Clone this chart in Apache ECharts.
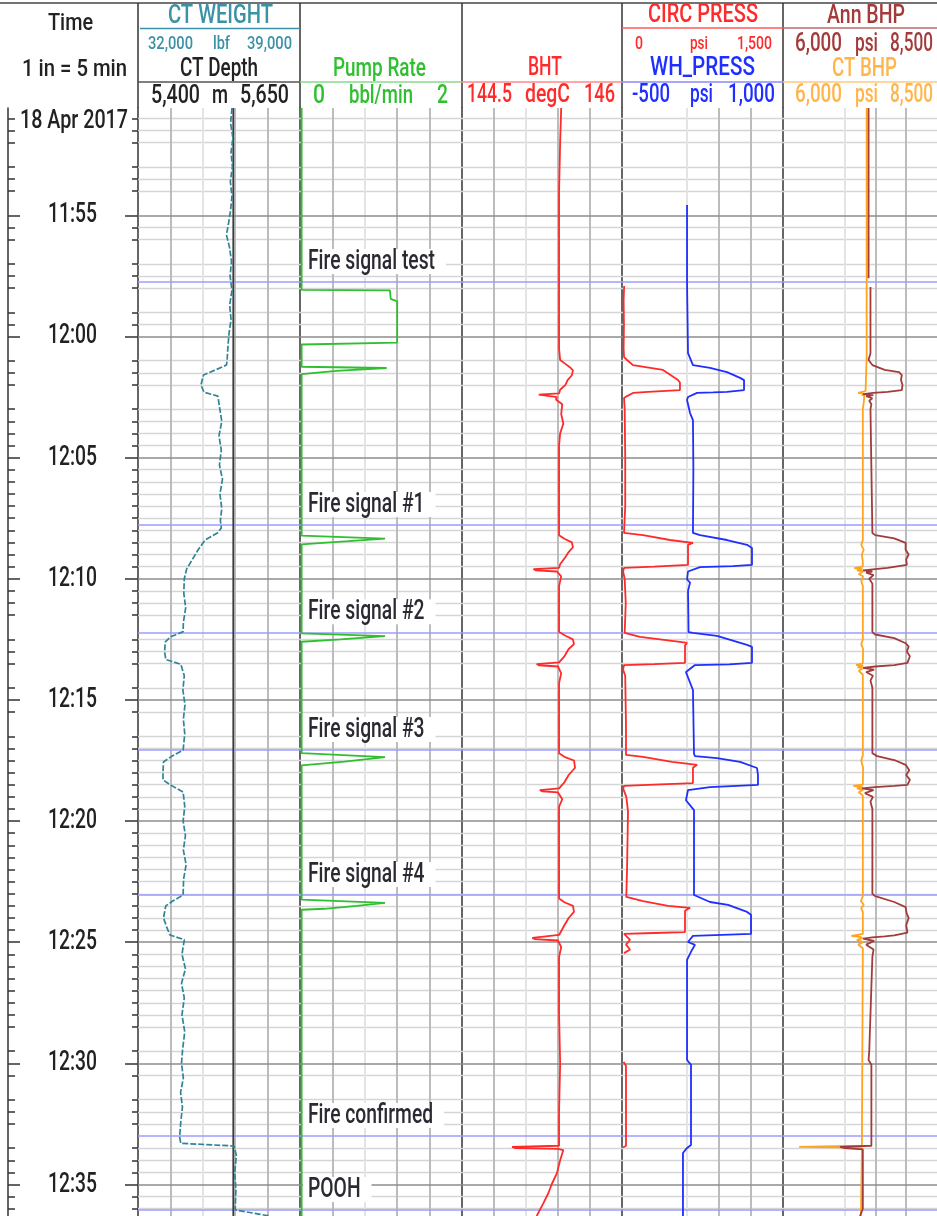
<!DOCTYPE html>
<html><head><meta charset="utf-8">
<script src="https://cdn.jsdelivr.net/npm/echarts@6/dist/echarts.min.js"></script>
<style>html,body{margin:0;padding:0;background:#fff}#c{width:937px;height:1216px}</style>
</head><body><div id="c"></div>
<script>
// ================= DATA (time = minutes after 11:00, 18 Apr 2017) =================
const TIME_RANGE = [50.57, 96.3];
const TIME_MAJOR = [55, 60, 65, 70, 75, 80, 85, 90, 95];
const TIME_MINOR = [51,51.5,52,53,53.5,54,55.5,56,57,57.5,58,59,59.5,61,61.5,62,63,63.5,64,64.5,65.5,66,66.5,67,67.5,68,68.5,69,69.5,70.5,71,71.5,72.5,73,73.5,74.5,75.5,76.5,77,77.5,78,78.5,79,79.5,80.5,81,81.5,82,82.5,83,83.5,84,84.5,85.5,86,86.5,87,87.5,88,88.5,89.5,90.5,91.5,92,92.5,93.5,94,94.5,95.5,96];
const DATE_LABEL = '18 Apr 2017';
const EVENT_TIMES = [57.75, 67.78, 72.21, 77.07, 83.05, 93.0, 96.05];
const EVENT_NAMES = ['Fire signal test', 'Fire signal #1', 'Fire signal #2', 'Fire signal #3', 'Fire signal #4', 'Fire confirmed', 'POOH'];

const CT_WEIGHT_SCALE = [32000, 39000];
const CT_DEPTH_SCALE = [5400, 5650];
const PUMP_RATE_SCALE = [0, 2];
const BHT_SCALE = [144.5, 146];
const CIRC_PRESS_SCALE = [0, 1500];
const WH_PRESS_SCALE = [-500, 1000];
const ANN_BHP_SCALE = [6000, 8500];
const CT_BHP_SCALE = [6000, 8500];

// [time, value]; null = gap in record
const CT_WEIGHT = [[50.57,36060],[51.2,36000],[51.8,36100],[52.4,36020],[53.0,36080],[53.6,35990],[54.2,36060],[54.8,36000],[55.4,35900],[55.8,35820],[56.3,35950],[56.9,36040],[57.5,35980],[58.1,36060],[58.7,35960],[59.3,36020],[59.9,35930],[60.5,35880],[61.0,35850],[61.18,35820],[61.4,35300],[61.59,34830],[62.0,34720],[62.3,34850],[62.46,35450],[62.9,35520],[63.5,35620],[64.1,35500],[64.7,35600],[65.3,35520],[65.9,35650],[66.5,35540],[67.1,35620],[67.6,35560],[67.9,35600],[68.1,35450],[68.4,34900],[68.8,34600],[69.2,34350],[69.6,34100],[70.0,34000],[70.6,33980],[71.2,34060],[71.8,33960],[72.18,33950],[72.4,33400],[72.6,33180],[73.0,33150],[73.33,33200],[73.53,33850],[74.0,34000],[74.6,33940],[75.2,34030],[75.8,33960],[76.4,34020],[77.07,33950],[77.3,33500],[77.56,33100],[78.0,33080],[78.3,33080],[78.51,33400],[78.8,33950],[79.4,34020],[80.0,33950],[80.6,34050],[81.2,33960],[81.8,34080],[82.4,33970],[83.05,33950],[83.3,33500],[83.5,33200],[84.0,33100],[84.4,33250],[84.7,33380],[84.9,34000],[85.5,33900],[86.1,34050],[86.7,33880],[87.3,34000],[88.0,33900],[88.7,34020],[89.4,33930],[90.0,33880],[90.6,33960],[91.2,33840],[91.8,33920],[92.4,33850],[93.04,33800],[93.3,33850],[93.41,36150],[93.8,36250],[94.5,36180],[95.2,36230],[96.05,36200],[96.3,37700]];
const CT_DEPTH = [[50.57,5547],[96.3,5547]];
const PUMP_RATE = [[50.57,0.02],[58.08,0.02],[58.1,1.11],[58.45,1.12],[58.55,1.2],[60.25,1.2],[60.33,0.02],[61.25,0.02],[61.3,1.07],[61.42,0.45],[61.55,0.02],[68.22,0.02],[68.34,1.05],[68.45,0.6],[68.58,0.02],[72.25,0.02],[72.37,1.05],[72.5,0.5],[72.6,0.02],[77.2,0.02],[77.36,1.05],[77.55,0.55],[77.7,0.02],[83.24,0.02],[83.38,1.05],[83.5,0.7],[83.62,0.3],[83.66,0.02],[96.3,0.02]];
const BHT = [[50.57,145.43],[52,145.42],[54,145.41],[56,145.41],[58,145.41],[60.5,145.41],[60.97,145.42],[61.1,145.46],[61.3,145.52],[61.4,145.54],[61.6,145.53],[61.8,145.49],[62.0,145.47],[62.2,145.42],[62.35,145.41],[62.4,145.22],[62.45,145.23],[62.5,145.39],[62.6,145.38],[62.8,145.44],[63.2,145.43],[63.6,145.45],[64,145.42],[64.5,145.41],[68.2,145.41],[68.35,145.46],[68.5,145.53],[68.7,145.54],[68.9,145.5],[69.1,145.47],[69.4,145.42],[69.55,145.41],[69.6,145.17],[69.65,145.19],[69.7,145.39],[69.9,145.43],[70.3,145.41],[72.2,145.41],[72.35,145.47],[72.5,145.54],[72.7,145.55],[72.9,145.5],[73.2,145.46],[73.45,145.41],[73.52,145.2],[73.57,145.22],[73.62,145.4],[73.9,145.43],[74.3,145.41],[77.2,145.41],[77.35,145.46],[77.5,145.55],[77.8,145.56],[78.1,145.5],[78.4,145.46],[78.65,145.41],[78.72,145.23],[78.77,145.25],[78.82,145.4],[79.1,145.44],[79.4,145.41],[83.2,145.41],[83.35,145.46],[83.5,145.54],[83.75,145.55],[84.0,145.5],[84.3,145.46],[84.7,145.41],[84.82,145.16],[84.87,145.18],[84.93,145.4],[85.2,145.43],[85.6,145.41],[88,145.41],[90,145.42],[92,145.41],[93.4,145.41],[93.45,144.97],[93.5,145.0],[93.53,145.4],[93.58,145.45],[94.0,145.42],[94.53,145.39],[95.0,145.34],[95.35,145.31],[95.8,145.26],[96.3,145.2]];
const CIRC_PRESS = [[57.92,20],[58.5,15],[59.5,18],[60.5,15],[60.85,19],[60.97,47],[61.18,102],[61.38,382],[61.8,522],[61.9,540],[62.21,540],[62.29,242],[62.33,102],[62.46,47],[62.54,19],[63,25],[65,30],[67,30],[68.11,19],[68.2,196],[68.4,447],[68.52,661],[68.6,615],[69.0,615],[69.43,615],[69.5,300],[69.55,19],[69.7,10],[70,25],[71,35],[72.23,25],[72.4,168],[72.6,540],[72.65,606],[72.75,587],[73.47,587],[73.52,300],[73.56,19],[73.75,10],[74,30],[76,37],[77.27,37],[77.35,196],[77.56,466],[77.68,699],[77.8,661],[78.43,661],[78.5,300],[78.55,19],[78.65,10],[79,40],[79.6,56],[82,47],[83.13,40],[83.3,196],[83.5,429],[83.58,634],[83.7,587],[84.58,587],[84.62,300],[84.66,19],[84.9,75],[85.1,37],[85.3,75],[85.45,19],null,[89.94,15],[90.1,37],[92,37],[93.4,37],[93.47,10]];
const WH_PRESS = [[54.57,106],[56,106],[57.79,106],[60.69,115],[61.18,161],[61.3,320],[61.47,478],[61.71,600],[61.8,637],[62.21,637],[62.29,478],[62.31,348],[62.33,199],[62.5,115],[62.62,106],[63.16,134],[63.45,161],[65.5,165],[68.11,161],[68.2,227],[68.4,478],[68.6,665],[68.73,711],[69.43,711],[69.48,534],[69.52,227],[69.7,115],[70.03,106],[70.16,134],[70.5,115],[72.2,120],[72.23,161],[72.36,385],[72.73,665],[72.81,711],[73.47,711],[73.53,500],[73.56,180],[73.85,96],[74.59,161],[77.23,171],[77.32,180],[77.4,385],[77.56,600],[77.81,758],[78.1,767],[78.51,767],[78.6,320],[78.72,115],[79.14,96],[79.55,171],[83.05,171],[83.34,320],[83.46,488],[83.75,665],[83.87,702],[84.66,702],[84.74,161],[84.99,115],[85.11,180],[85.32,152],[85.73,106],[89.86,106],[90.06,143],[93.37,143],[93.49,106],[93.7,68],[96.3,68]];
const ANN_BHP = [[50.57,7389],[57.6,7389],null,[57.96,7420],[60.69,7420],[60.97,7389],[61.18,7451],[61.38,7651],[61.47,7883],[61.59,7929],[61.8,7915],[62.0,7940],[62.21,7929],[62.29,7697],[62.33,7466],[62.38,7300],[62.42,7466],[62.46,7350],[62.55,7450],[62.65,7400],[62.8,7435],[63,7420],[68.11,7451],[68.2,7497],[68.33,7806],[68.52,7991],[68.6,8022],[68.8,7990],[69.0,8040],[69.2,8000],[69.43,8010],[69.55,7697],[69.6,7497],[69.65,7300],[69.7,7450],[69.75,7350],[69.85,7470],[70.0,7400],[70.2,7451],[72.2,7451],[72.3,7497],[72.45,7806],[72.66,7991],[72.8,8040],[73.0,8010],[73.2,8060],[73.47,8020],[73.56,7806],[73.62,7497],[73.68,7300],[73.75,7480],[73.85,7350],[74.0,7460],[74.2,7420],[74.5,7451],[77.2,7451],[77.32,7528],[77.48,7806],[77.68,7991],[77.9,8050],[78.1,8000],[78.3,8060],[78.51,8020],[78.55,7806],[78.6,7497],[78.65,7280],[78.72,7470],[78.85,7330],[79.0,7460],[79.2,7420],[79.5,7451],[83.0,7451],[83.1,7497],[83.34,7806],[83.55,7991],[83.8,8006],[84.0,8040],[84.3,8000],[84.6,8020],[84.72,7806],[84.76,7651],[84.8,7450],[84.85,7300],[84.95,7480],[85.1,7350],[85.3,7470],[85.6,7451],[89.5,7400],[89.86,7389],[90.06,7435],[93.4,7435],[93.45,6926],[93.5,7000],[93.55,7296],[96.0,7296],[96.3,7250]];
const CT_BHP = [[50.57,7358],[60.85,7358],[61.5,7350],[62.25,7340],[62.33,7219],[62.36,7330],[62.4,7280],[62.45,7320],[62.5,7290],[62.7,7312],[63,7296],[68.4,7296],[68.6,7270],[68.8,7310],[69.0,7280],[69.3,7296],[69.5,7296],[69.56,7157],[69.6,7290],[69.65,7200],[69.7,7300],[69.8,7230],[69.9,7300],[70.1,7270],[70.3,7296],[72.5,7296],[72.7,7270],[72.9,7300],[73.5,7296],[73.55,7188],[73.6,7300],[73.65,7210],[73.7,7290],[73.8,7230],[73.95,7296],[77.3,7296],[77.5,7270],[77.8,7300],[78.5,7296],[78.55,7142],[78.6,7290],[78.65,7200],[78.72,7300],[78.8,7230],[78.95,7296],[83.1,7296],[83.3,7265],[83.45,7310],[83.6,7270],[83.75,7296],[84.66,7296],[84.74,7111],[84.78,7250],[84.83,7290],[84.9,7200],[85.0,7300],[85.1,7220],[85.25,7296],[93.4,7281],[93.45,6262],[93.47,6900],[93.5,7281],[93.55,7265],[96.3,7265]];

// ================= LAYOUT / STYLE =================
const FAMILY = 'Roboto, sans-serif';
const WEIGHT = 500;
const TOP = 108, BOTTOM = 1216;
const C = {teal:'#2f8496', tealT:'#3b92a6', green:'#2fbf2f', red:'#ff2a2a', blue:'#1f2fff', brown:'#a33b3b', orange:'#ffa41c', orangeT:'#ffb54a', event:'#9d9dff', text:'#222'};

const mctx = document.createElement('canvas').getContext('2d');
const fontStr = size => WEIGHT + ' ' + size + 'px ' + FAMILY;
function textW(s, size) { mctx.font = fontStr(size); return mctx.measureText(s).width; }

const TRACKS = [
  {left:138, width:162, scales:[CT_WEIGHT_SCALE, CT_DEPTH_SCALE], vgrid:[[0.2,'m'],[0.4,'l'],[0.6,'m'],[0.8,'m']]},
  {left:300, width:162, scales:[PUMP_RATE_SCALE], vgrid:[[0.2,'m'],[0.4,'l'],[0.6,'m'],[0.8,'m']], labels:true},
  {left:462, width:160, scales:[BHT_SCALE], vgrid:[[0.2,'m'],[0.4,'l'],[0.6,'m'],[0.8,'m']]},
  {left:622, width:161, scales:[CIRC_PRESS_SCALE, WH_PRESS_SCALE], vgrid:[[0.4,'l'],[0.6,'m'],[0.8,'m']]},
  {left:783, width:162, scales:[ANN_BHP_SCALE, CT_BHP_SCALE], vgrid:[[0.4,'l'],[0.6,'m'],[0.8,'m']]}
];

const grids = [{left:8, top:TOP, width:130, height:BOTTOM-TOP}];
const xAxes = [{type:'value', gridIndex:0, min:0, max:1, show:false}];
const fmtTime = m => (11 + Math.floor(m/60)) + ':' + String(Math.round(m % 60)).padStart(2,'0');
const timeAxisBase = {type:'value', gridIndex:0, min:TIME_RANGE[0], max:TIME_RANGE[1], inverse:true, splitLine:{show:false}, axisLabel:{show:false}};
const tk = (len, vals) => ({show:true, inside:true, length:len, customValues:vals, lineStyle:{color:'#333', width:1.5}});
const yAxes = [
  Object.assign({}, timeAxisBase, {position:'left', axisLine:{show:true, onZero:false, lineStyle:{color:'#333', width:1.5}}, axisTick:tk(12, TIME_MAJOR)}),
  Object.assign({}, timeAxisBase, {position:'left', axisLine:{show:false}, axisTick:tk(7, TIME_MINOR)}),
  Object.assign({}, timeAxisBase, {position:'right', axisLine:{show:false}, axisTick:tk(13, TIME_MAJOR)}),
  Object.assign({}, timeAxisBase, {position:'right', axisLine:{show:false}, axisTick:tk(6, TIME_MINOR)})
];
const series = [];

// time labels (condensed text placed through the time axis)
const TL_SIZE = 28, TL_SCALE = 49 / textW('12:00', TL_SIZE);
series.push({type:'custom', coordinateSystem:'cartesian2d', xAxisIndex:0, yAxisIndex:0, z:5, silent:true, animation:false,
  data:TIME_MAJOR.map(v => [0.5, v]),
  renderItem:(params, api) => {
    const p = api.coord([api.value(0), api.value(1)]);
    return {type:'text', x:p[0] - 0.5, y:p[1], scaleX:TL_SCALE,
      style:{text:fmtTime(api.value(1)), fill:C.text, font:fontStr(TL_SIZE), textAlign:'center', textVerticalAlign:'middle', align:'center', verticalAlign:'middle'}};
  }});

const trackAxis = [];
TRACKS.forEach((t, i) => {
  const gi = grids.length;
  grids.push({left:t.left, top:TOP, width:t.width, height:BOTTOM-TOP});
  const xs = t.scales.map(s => { xAxes.push({type:'value', gridIndex:gi, min:s[0], max:s[1], show:false}); return xAxes.length-1; });
  yAxes.push({type:'value', gridIndex:gi, min:TIME_RANGE[0], max:TIME_RANGE[1], inverse:true, position:'left',
    axisLine:{show:true, onZero:false, lineStyle:{color:'#333', width:1.5}}, axisTick:{show:false}, axisLabel:{show:false}, splitLine:{show:false}});
  const yi = yAxes.length-1;
  trackAxis.push({x:xs, y:yi});
  const s0 = t.scales[0];
  const gl = [];
  TIME_MINOR.forEach(v => gl.push({yAxis:v, lineStyle:{color:'#d5d5d5', width:1.4, type:'solid'}}));
  t.vgrid.forEach(([f, k]) => gl.push({xAxis:s0[0] + f*(s0[1]-s0[0]), lineStyle:{color:k==='l' ? '#e4e4e4' : '#bcbcbc', width:2, type:'solid'}}));
  TIME_MAJOR.forEach(v => gl.push({yAxis:v, lineStyle:{color:'#8c8c8c', width:1.5, type:'solid'}}));
  series.push({type:'line', xAxisIndex:xs[0], yAxisIndex:yi, data:[], silent:true, z:1,
    markLine:{silent:true, symbol:['none','none'], animation:false, z:1, label:{show:false}, data:gl}});
  series.push({type:'line', xAxisIndex:xs[0], yAxisIndex:yi, data:[], silent:true, z:2,
    markLine:{silent:true, symbol:['none','none'], animation:false, z:2, label:{show:false},
      lineStyle:{color:C.event, width:1.5, type:'solid'},
      data:EVENT_TIMES.map((v, k) => ({yAxis:v, name:EVENT_NAMES[k]}))}});
  if (t.labels) {
    const EV_SIZE = 27, EV_SCALE = 127 / textW(EVENT_NAMES[0], EV_SIZE);
    series.push({type:'custom', coordinateSystem:'cartesian2d', xAxisIndex:xs[0], yAxisIndex:yi, z:4, silent:true, animation:false,
      data:EVENT_TIMES.map((v, k) => [s0[0], v, k]),
      renderItem:(params, api) => {
        const p = api.coord([api.value(0), api.value(1)]);
        const name = EVENT_NAMES[api.value(2)];
        const w = textW(name, EV_SIZE) * EV_SCALE;
        return {type:'group', children:[
          {type:'rect', shape:{x:p[0] + 3, y:p[1] - 33, width:w + 16, height:25}, style:{fill:'#fff'}},
          {type:'text', x:p[0] + 8, y:p[1] - 20, scaleX:EV_SCALE,
            style:{text:name, fill:'#2a2a33', font:fontStr(EV_SIZE), textAlign:'left', textVerticalAlign:'middle', align:'left', verticalAlign:'middle'}}
        ]};
      }});
  }
});

function curve(name, arr, track, axisN, color, width, dash) {
  series.push({name, type:'line', xAxisIndex:trackAxis[track].x[axisN], yAxisIndex:trackAxis[track].y, z:3,
    showSymbol:false, symbol:'none', animation:false, clip:true, connectNulls:false,
    lineStyle:{color, width:width||1.8, type:dash||'solid'},
    data:arr.map(p => p ? [p[1], p[0]] : ['-','-'])});
}
curve('CT Depth', CT_DEPTH, 0, 1, '#3a3a3a', 1.7);
curve('CT WEIGHT', CT_WEIGHT, 0, 0, C.teal, 1.7, [6,2]);
curve('Pump Rate', PUMP_RATE, 1, 0, C.green, 1.8);
curve('BHT', BHT, 2, 0, C.red, 1.8);
curve('CIRC PRESS', CIRC_PRESS, 3, 0, C.red, 1.8);
curve('WH_PRESS', WH_PRESS, 3, 1, C.blue, 1.8);
curve('CT BHP', CT_BHP, 4, 1, C.orange, 1.8);
curve('Ann BHP', ANN_BHP, 4, 0, C.brown, 1.8);

// ================= HEADER =================
const fmtNum = n => Math.abs(n) >= 1000 ? n.toLocaleString('en-US') : String(n);
const G = [];
function txt(s, cx, cy, color, size, w) {
  const sx = w ? w / textW(s, size) : 0.78;
  G.push({type:'text', silent:true, z:10, x:cx, y:cy, scaleX:sx,
    style:{text:s, x:0, y:0, fill:color, font:fontStr(size), textAlign:'center', textVerticalAlign:'middle', align:'center', verticalAlign:'middle'}});
}
function ln(x1, y1, x2, y2, color, w) {
  G.push({type:'line', silent:true, z:10, shape:{x1, y1, x2, y2}, style:{stroke:color, lineWidth:w||1.5}});
}
// row: scale [min,max], unit, centres [cx0,cxU,cx1], widths [w0,wU,w1]
function scaleRow(scale, unit, xs, ws, y, color, size) {
  txt(fmtNum(scale[0]), xs[0], y, color, size, ws[0]);
  txt(unit, xs[1], y, color, size, ws[1]);
  txt(fmtNum(scale[1]), xs[2], y, color, size, ws[2]);
}
ln(0, 3, 937, 3, '#444', 1.5);
[138, 300, 462, 622, 783].forEach(x => ln(x, 3, x, TOP, '#333', 1.5));
txt('Time', 70.5, 24, C.text, 24, 45);
txt('1 in = 5 min', 74.5, 70, C.text, 24, 105);
txt(DATE_LABEL, 74, 122, C.text, 25, 108);
txt('CT WEIGHT', 220.5, 16, C.tealT, 26, 105); ln(140, 28.5, 300, 28.5, C.tealT, 1.5);
scaleRow(CT_WEIGHT_SCALE, 'lbf', [170.5, 221.5, 269.5], [45, 17, 45], 44, C.tealT, 18);
txt('CT Depth', 219, 70, C.text, 25, 78); ln(138, 82, 300, 82, '#555', 1.5);
scaleRow(CT_DEPTH_SCALE, 'm', [175.5, 220, 264.5], [49, 16, 49], 97, C.text, 25);
txt('Pump Rate', 379.5, 70, C.green, 25, 93); ln(300, 82, 462, 82, '#8ad88a', 1.5);
scaleRow(PUMP_RATE_SCALE, 'bbl/min', [319, 381, 442.5], [12, 64, 11], 97, C.green, 25);
txt('BHT', 545, 68.5, C.red, 26, 34); ln(462, 82, 622, 82, '#ff8a8a', 1.5);
scaleRow(BHT_SCALE, 'degC', [489.5, 547.5, 599.5], [45, 45, 31], 95.5, C.red, 25);
txt('CIRC PRESS', 703, 15.5, C.red, 26, 110); ln(622, 28, 783, 28, '#ff5a5a', 1.5);
scaleRow(CIRC_PRESS_SCALE, 'psi', [639, 699, 754.5], [8, 18, 35], 44, C.red, 18);
txt('WH_PRESS', 702.5, 68.5, C.blue, 26, 105); ln(622, 82, 783, 82, '#8a8aff', 1.5);
scaleRow(WH_PRESS_SCALE, 'psi', [651, 701.5, 751.5], [38, 23, 47], 95.5, C.blue, 25);
txt('Ann BHP', 866, 16, C.brown, 26, 78); ln(783, 28, 937, 28, '#b86a6a', 1.5);
scaleRow(ANN_BHP_SCALE, 'psi', [818.5, 866.5, 911.5], [47, 23, 43], 44.5, C.brown, 25);
txt('CT BHP', 864.5, 69, C.orangeT, 26, 65); ln(783, 82, 937, 82, '#ffc880', 1.5);
scaleRow(CT_BHP_SCALE, 'psi', [818.5, 866.5, 911.5], [47, 23, 43], 95.5, C.orangeT, 25);

const chart = echarts.init(document.getElementById('c'), null, {renderer:'canvas'});
chart.setOption({animation:false, backgroundColor:'#fff', grid:grids, xAxis:xAxes, yAxis:yAxes, series, graphic:{elements:G}});
</script></body></html>
